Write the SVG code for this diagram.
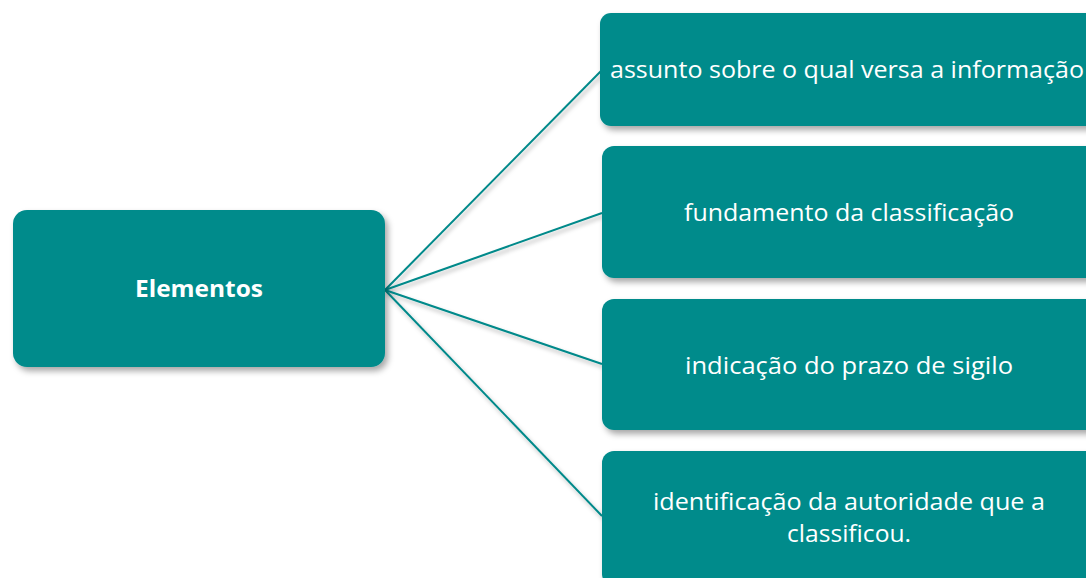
<svg xmlns="http://www.w3.org/2000/svg" width="1086" height="578" viewBox="0 0 1086 578">
<defs>
<filter id="sh" x="-10%" y="-10%" width="125%" height="130%">
<feDropShadow dx="3" dy="4" stdDeviation="3" flood-color="#000" flood-opacity="0.35"/>
</filter>
<filter id="lsh" x="-10%" y="-10%" width="130%" height="130%">
<feDropShadow dx="2" dy="3" stdDeviation="2" flood-color="#000" flood-opacity="0.3"/>
</filter>
</defs>
<style>
.box{fill:#008B8B;filter:url(#sh);}
.t{font-family:"Open Sans","Noto Sans",sans-serif;font-size:24px;fill:#fff;text-anchor:middle;}
.b{font-weight:bold;font-size:24px;}
.c{stroke:#00898A;stroke-width:2;fill:none;}
</style>
<rect width="1086" height="578" fill="#fff"/>
<g id="connectors" filter="url(#lsh)">
<line class="c" x1="385" y1="290" x2="601" y2="71"/>
<line class="c" x1="385" y1="290" x2="602" y2="213"/>
<line class="c" x1="385" y1="290" x2="602" y2="364"/>
<line class="c" x1="385" y1="290" x2="602" y2="516"/>
</g>
<g id="elementos">
<rect class="box" x="13" y="210" width="372" height="157" rx="14"/>
<text class="t b" x="199" y="297" textLength="128" lengthAdjust="spacingAndGlyphs">Elementos</text>
</g>
<g id="assunto">
<rect class="box" x="600" y="13" width="498" height="113" rx="11"/>
<text class="t" x="847" y="78" textLength="474" lengthAdjust="spacingAndGlyphs">assunto sobre o qual versa a informação</text>
</g>
<g id="fundamento">
<rect class="box" x="602" y="146" width="496" height="132" rx="12"/>
<text class="t" x="849" y="221" textLength="330" lengthAdjust="spacingAndGlyphs">fundamento da classificação</text>
</g>
<g id="prazo">
<rect class="box" x="602" y="299" width="496" height="131" rx="12"/>
<text class="t" x="849" y="374" textLength="328" lengthAdjust="spacingAndGlyphs">indicação do prazo de sigilo</text>
</g>
<g id="autoridade">
<rect class="box" x="602" y="451" width="496" height="135" rx="12"/>
<text class="t" x="849" y="510" textLength="392" lengthAdjust="spacingAndGlyphs">identificação da autoridade que a</text>
<text class="t" x="849" y="542" textLength="124" lengthAdjust="spacingAndGlyphs">classificou.</text>
</g>
</svg>
